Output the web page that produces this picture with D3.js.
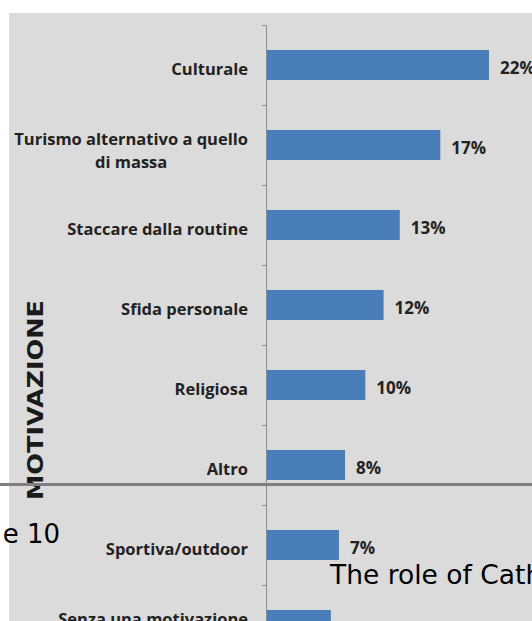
<!DOCTYPE html>
<html>
<head>
<meta charset="utf-8">
<script src="https://cdn.jsdelivr.net/npm/d3@7"></script>
<style>
  body { margin: 0; background: #fff; }
  svg { display: block; }
</style>
</head>
<body>
<div id="chart"></div>
<script>
// categories, top to bottom ("\n" splits a label into lines)
const categories = [
  "Culturale",
  "Turismo alternativo a quello\ndi massa",
  "Staccare dalla routine",
  "Sfida personale",
  "Religiosa",
  "Altro",
  "Sportiva/outdoor",
  "Senza una motivazione\n"
];
// bar lengths (%)
const values = [21.9, 17.1, 13.1, 11.5, 9.7, 7.7, 7.1, 6.3];
// printed labels
const valueLabels = ["22%", "17%", "13%", "12%", "10%", "8%", "7%", "7%"];
const axisTitle = "MOTIVAZIONE";

const width = 532, height = 621;

const svg = d3.select("#chart")
              .append("svg")
              .attr("width", width)
              .attr("height", height);

// grey panel
svg.append("rect")
   .attr("x", 9)
   .attr("y", 13)
   .attr("width", width - 9)
   .attr("height", height - 13)
   .attr("fill", "#dbdbdb");

const axisX = 266;
const plotTop = 25, step = 80;

const yScale = d3.scaleBand(d3.range(categories.length), [plotTop, plotTop + step * categories.length])
                 .paddingInner(0.625)
                 .paddingOuter(0.3125);
const xScale = d3.scaleLinear([0, 22], [axisX + 1, axisX + 1 + 223]);

// boundary ticks on the category axis
const yEdges = d3.scaleLinear([0, categories.length], [plotTop, plotTop + step * categories.length]);
const yAxis = d3.axisLeft(yEdges)
                .tickValues(d3.range(categories.length + 1))
                .tickSize(4)
                .tickSizeOuter(0)
                .tickFormat("");

svg.append("g")
   .attr("transform", "translate(" + axisX + ",0)")
   .call(yAxis)
   .call(g => g.select(".domain").attr("stroke", "#8c8c8c"))
   .call(g => g.selectAll(".tick line").attr("stroke", "#8c8c8c"));

// bars
svg.append("g")
   .selectAll("rect")
   .data(values)
   .join("rect")
   .attr("x", xScale(0))
   .attr("y", (d, i) => yScale(i))
   .attr("height", yScale.bandwidth())
   .attr("width", d => xScale(d) - xScale(0))
   .attr("fill", "#4a7ebb");

// value labels
svg.append("g")
   .selectAll("text")
   .data(values)
   .join("text")
   .attr("x", d => xScale(d) + 11)
   .attr("y", (d, i) => yScale(i) + yScale.bandwidth() / 2 + 2)
   .attr("dominant-baseline", "central")
   .style("font-family", "'Open Sans', sans-serif")
   .style("font-weight", "bold")
   .style("font-size", "17px")
   .style("fill", "#222")
   .text((d, i) => valueLabels[i]);

// category labels, block centred, right edge at 248
const labelRight = 248, lineH = 23;
const catG = svg.append("g")
   .style("font-family", "'Open Sans', sans-serif")
   .style("font-weight", "bold")
   .style("font-size", "16.5px")
   .style("fill", "#222");

categories.forEach((c, i) => {
  const lines = c.split("\n");
  const cy = yScale(i) + yScale.bandwidth() / 2 + 3 + (lines.length - 1) * 2;
  const t = catG.append("text").attr("text-anchor", "middle");
  lines.forEach((l, j) => {
    t.append("tspan")
     .attr("y", cy + (j - (lines.length - 1) / 2) * lineH)
     .attr("dominant-baseline", "central")
     .text(l);
  });
  let w = 0;
  t.selectAll("tspan").each(function() { w = Math.max(w, this.getComputedTextLength()); });
  t.selectAll("tspan").attr("x", labelRight - w / 2);
});

// axis title
svg.append("text")
   .attr("transform", "translate(43,400) rotate(-90)")
   .attr("text-anchor", "middle")
   .attr("textLength", 200)
   .attr("lengthAdjust", "spacingAndGlyphs")
   .style("font-family", "'DejaVu Sans', sans-serif")
   .style("font-weight", "bold")
   .style("font-size", "22px")
   .style("fill", "#1a1a1a")
   .text(axisTitle);

// page overlay: rule and stray text from the surrounding document
svg.append("line")
   .attr("x1", 0).attr("x2", width)
   .attr("y1", 484.5).attr("y2", 484.5)
   .attr("stroke", "#7f7f7f")
   .attr("stroke-width", 3);

svg.append("text")
   .attr("x", 60).attr("y", 543)
   .attr("text-anchor", "end")
   .style("font-family", "'DejaVu Sans', sans-serif")
   .style("font-size", "26px")
   .style("fill", "#000")
   .text("e 10");

svg.append("text")
   .attr("x", 330).attr("y", 584)
   .style("font-family", "'DejaVu Sans', sans-serif")
   .style("font-size", "26.5px")
   .style("fill", "#000")
   .text("The role of Cath");
</script>
</body>
</html>
